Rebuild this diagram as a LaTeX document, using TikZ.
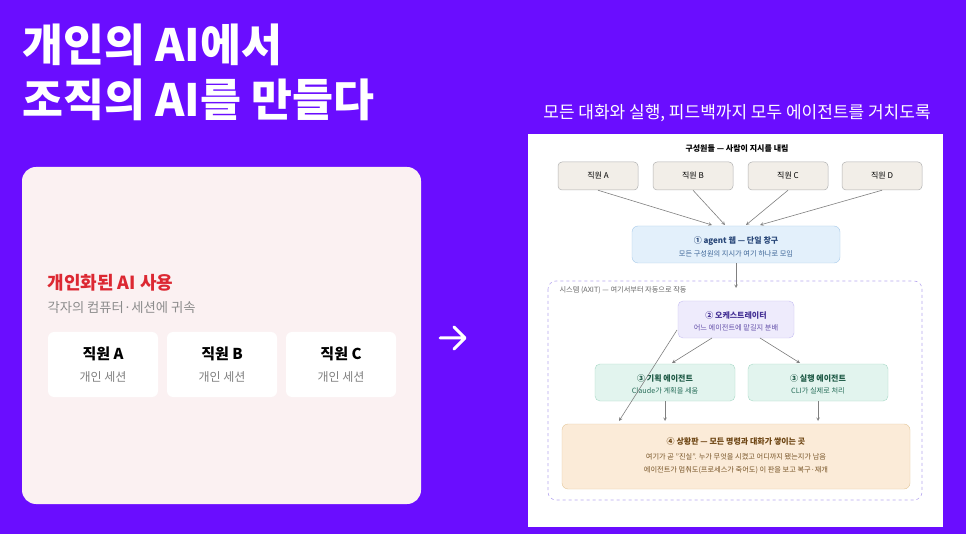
\documentclass[tikz,border=0pt]{standalone}
\usepackage{fontspec}
\setmainfont{Noto Sans CJK KR}
\begin{document}
\begin{tikzpicture}[x=1pt,y=-1pt,
  emp/.style={draw=black!30,fill=ebg,rounded corners=4pt,line width=0.5pt},
  arr/.style={draw=black!50,line width=0.6pt,->,>={stealth}},
  card/.style={fill=white,rounded corners=6pt},
  small/.style={font=\fontsize{7.2}{8}\selectfont},
  ttl/.style={font=\fontsize{8}{9}\selectfont\bfseries}]
\definecolor{bgp}{HTML}{6A0DFF}
\definecolor{ebg}{HTML}{F2EEE8}
\path[use as bounding box,fill=bgp] (0,0) rectangle (966,534);
\node[anchor=west,text=white,font=\fontsize{44.5}{50}\selectfont\bfseries] (t1) at (19,45) {개인의 AI에서};
\node[anchor=west,text=white,font=\fontsize{44.5}{50}\selectfont\bfseries] (t2) at (19,100) {조직의 AI를 만들다};
% left card
\fill[fill={rgb,255:red,251;green,241;blue,242},rounded corners=14pt] (22,167) rectangle (421,504);
\node[anchor=west,text={rgb,255:red,220;green,40;blue,50},font=\fontsize{18}{20}\selectfont\bfseries] (lt) at (44,283) {개인화된 AI 사용};
\node[anchor=west,text=black!45,font=\fontsize{13.3}{15}\selectfont] (ls) at (44,308) {각자의 컴퓨터·세션에 귀속};
\foreach \x/\l in {48/A,167/B,286/C}{
  \fill[card] (\x,332) rectangle (\x+110,397);
  \node[font=\fontsize{15}{17}\selectfont\bfseries] (e\l) at (\x+55,354) {직원 \l};
  \node[text=black!50,font=\fontsize{12}{14}\selectfont] (s\l) at (\x+55,377) {개인 세션};
}
\draw[white,line width=3pt,line cap=round,line join=round] (440,338) -- (464,338) (454,327) -- (465,338) -- (454,349);
\node[text=white,font=\fontsize{17}{20}\selectfont] (rt) at (737,113) {모든 대화와 실행, 피드백까지 모두 에이전트를 거치도록};
% right panel
\fill[white] (528,134) rectangle (943,527);
\node[ttl] (hd) at (737,149) {구성원들 — 사람이 지시를 내림};
\foreach \x/\l in {558/A,653/B,748/C,842/D}{
  \node[emp,minimum width=80pt,minimum height=28pt,font=\fontsize{8}{9}\selectfont] (E\l) at (\x+40,176) {직원 \l};
}
\node[draw={rgb,255:red,168;green,203;blue,234},fill={rgb,255:red,227;green,240;blue,251},rounded corners=6pt,minimum width=208pt,minimum height=37pt] (web) at (736,244.5) {};
\node[text={rgb,255:red,40;green,70;blue,120},ttl] at (736,241) {① agent 웹 — 단일 창구};
\node[text={rgb,255:red,60;green,100;blue,150},small] at (736,254) {모든 구성원의 지시가 여기 하나로 모임};
\draw[arr] (EA.south) -- (712,225);
\draw[arr] (EB.south) -- (725,225);
\draw[arr] (EC.south) -- (746,225);
\draw[arr] (ED.south) -- (760,225);
\draw[dashed,draw={rgb,255:red,184;green,168;blue,240},rounded corners=8pt,line width=0.6pt] (548,281) rectangle (922,500);
\draw[arr] (web.south) -- (736,288);
\node[anchor=west,text=black!60,font=\fontsize{7.2}{8}\selectfont] (sl) at (556,290) {시스템 (AXIT) — 여기서부터 자동으로 작동};
\node[draw={rgb,255:red,199;green,191;blue,243},fill={rgb,255:red,238;green,235;blue,252},rounded corners=5pt,minimum width=116pt,minimum height=37pt] (orc) at (736,319.5) {};
\node[text={rgb,255:red,70;green,50;blue,150},ttl] at (736,315) {② 오케스트레이터};
\node[text={rgb,255:red,100;green,80;blue,170},small] at (736,328) {어느 에이전트에 맡길지 분배};
\node[draw={rgb,255:red,167;green,217;blue,198},fill={rgb,255:red,226;green,244;blue,238},rounded corners=5pt,minimum width=140pt,minimum height=37pt] (plan) at (665,382.5) {};
\node[text={rgb,255:red,30;green,90;blue,70},ttl] at (665,378) {③ 기획 에이전트};
\node[text={rgb,255:red,40;green,110;blue,90},small] at (665,391) {Claude가 계획을 세움};
\node[draw={rgb,255:red,167;green,217;blue,198},fill={rgb,255:red,226;green,244;blue,238},rounded corners=5pt,minimum width=140pt,minimum height=37pt] (exe) at (818,382.5) {};
\node[text={rgb,255:red,30;green,90;blue,70},ttl] at (818,378) {③ 실행 에이전트};
\node[text={rgb,255:red,40;green,110;blue,90},small] at (818,391) {CLI가 실제로 처리};
\draw[arr] (712,338) -- (672,363);
\draw[arr] (760,338) -- (800,363);
\node[draw={rgb,255:red,228;green,199;blue,154},fill={rgb,255:red,251;green,235;blue,216},rounded corners=6pt,minimum width=348pt,minimum height=65pt] (sb) at (736,456.5) {};
\node[text={rgb,255:red,110;green,70;blue,20},ttl] at (736,441) {④ 상황판 — 모든 명령과 대화가 쌓이는 곳};
\node[text={rgb,255:red,120;green,85;blue,40},small] at (736,457) {여기가 곧 "진실". 누가 무엇을 시켰고 어디까지 됐는지가 남음};
\node[text={rgb,255:red,120;green,85;blue,40},small] at (736,470) {에이전트가 멈춰도(프로세스가 죽어도) 이 판을 보고 복구·재개};
\draw[arr] (plan.south) -- (665,421);
\draw[arr] (exe.south) -- (818,421);
\draw[arr] (677,330) -- (619,421);
\end{tikzpicture}
\end{document}
